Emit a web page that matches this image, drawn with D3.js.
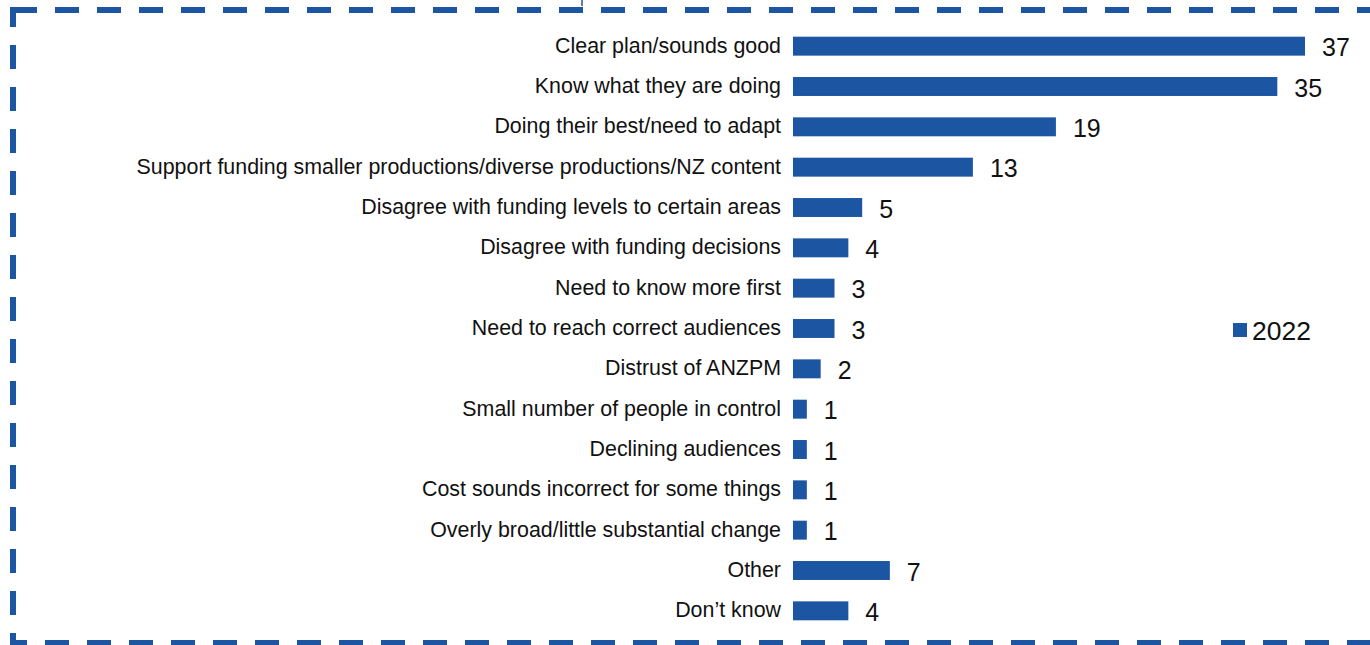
<!DOCTYPE html>
<html>
<head>
<meta charset="utf-8">
<script src="https://cdn.jsdelivr.net/npm/d3@7"></script>
<style>
  html, body { margin: 0; padding: 0; background: #fff; }
  svg { display: block; }
</style>
</head>
<body>
<svg id="chart" width="1370" height="645"></svg>
<script>
// Reasons given, in display order, with counts for 2022
const categories = [
  "Clear plan/sounds good",
  "Know what they are doing",
  "Doing their best/need to adapt",
  "Support funding smaller productions/diverse productions/NZ content",
  "Disagree with funding levels to certain areas",
  "Disagree with funding decisions",
  "Need to know more first",
  "Need to reach correct audiences",
  "Distrust of ANZPM",
  "Small number of people in control",
  "Declining audiences",
  "Cost sounds incorrect for some things",
  "Overly broad/little substantial change",
  "Other",
  "Don\u2019t know"
];
const values2022 = [37, 35, 19, 13, 5, 4, 3, 3, 2, 1, 1, 1, 1, 7, 4];
const seriesName = "2022";

const blue = "#1c56a3";
const svg = d3.select("#chart");

// Dashed frame around the panel
const frame = svg.append("g")
  .attr("fill", "none")
  .attr("stroke", blue)
  .attr("stroke-width", 6)
  .attr("stroke-dasharray", "24 18");
frame.append("line").attr("x1", 10).attr("y1", 10).attr("x2", 1400).attr("y2", 10)
  .attr("stroke-dashoffset", -3);
frame.append("line").attr("x1", 13).attr("y1", 10).attr("x2", 13).attr("y2", 646)
  .attr("stroke-dashoffset", 7);
frame.append("line").attr("x1", 10).attr("y1", 643).attr("x2", 1400).attr("y2", 643)
  .attr("stroke-dashoffset", 7);
// solid corner piece
svg.append("path").attr("d", "M13,27 L13,10 L37,10")
  .attr("fill", "none").attr("stroke", blue).attr("stroke-width", 6);
// small connector tick at the top edge
svg.append("line").attr("x1", 582).attr("y1", 0).attr("x2", 582).attr("y2", 6)
  .attr("stroke", blue).attr("stroke-width", 1.5);

// Scales
const x = d3.scaleLinear().domain([0, 37]).range([793, 1305]);
const y = d3.scaleBand().domain(categories).range([26, 631]).paddingInner(0.53).paddingOuter(0.265);

const data = categories.map((c, i) => ({ cat: c, val: values2022[i] }));

// Bars
svg.append("g").selectAll("rect").data(data).join("rect")
  .attr("x", x(0))
  .attr("y", d => y(d.cat))
  .attr("width", d => x(d.val) - x(0))
  .attr("height", y.bandwidth())
  .attr("fill", blue);

// Category labels (left axis, no line or ticks)
const yAxis = svg.append("g")
  .attr("transform", `translate(${x(0) - 12},0)`)
  .call(d3.axisLeft(y).tickSize(0).tickPadding(0));
yAxis.select(".domain").remove();
yAxis.selectAll("text")
  .attr("fill", "#111")
  .attr("dy", "0.3em")
  .style("font-family", "'Liberation Sans', Arial, sans-serif")
  .style("font-size", "21.4px");

// Value labels
svg.append("g").selectAll("text").data(data).join("text")
  .attr("x", d => x(d.val) + 17)
  .attr("y", d => y(d.cat) + y.bandwidth() / 2 + 1)
  .attr("dy", "0.36em")
  .attr("fill", "#111")
  .style("font-family", "'Liberation Sans', Arial, sans-serif")
  .style("font-size", "25px")
  .text(d => d.val);

// Legend
const legend = svg.append("g").attr("transform", "translate(1233,323)");
legend.append("rect").attr("width", 14).attr("height", 14).attr("fill", blue);
legend.append("text")
  .attr("x", 19).attr("y", 7).attr("dy", "0.36em")
  .attr("fill", "#111")
  .style("font-family", "'Liberation Sans', Arial, sans-serif")
  .style("font-size", "26.5px")
  .text(seriesName);
</script>
</body>
</html>
